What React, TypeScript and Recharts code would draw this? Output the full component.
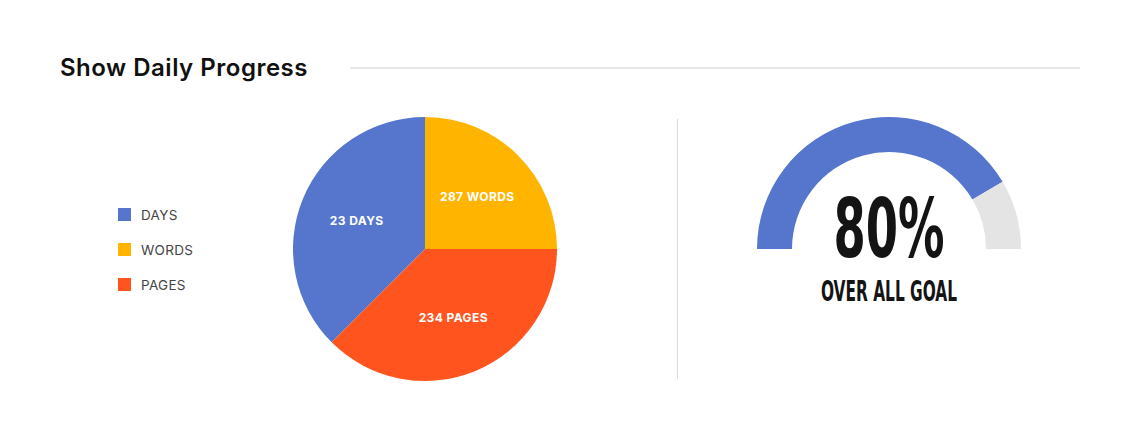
import React from 'react';
import { PieChart, Pie, Cell } from 'recharts';

const CATEGORIES = ['DAYS', 'WORDS', 'PAGES'];
const COUNTS = [23, 287, 234];
const SHARES = [37.5, 25, 37.5]; // slice sizes
const COLORS = ['#5676CD', '#FFB400', '#FF541E'];

const GAUGE_PERCENT = 80;
const GAUGE_SPLIT = [83, 17]; // filled / remaining arc
const GAUGE_COLORS = ['#5676CD', '#E4E4E4'];

const pieData = CATEGORIES.map((name, i) => ({ name, value: SHARES[i], count: COUNTS[i] }));
const gaugeData = GAUGE_SPLIT.map((value, i) => ({ name: i === 0 ? 'done' : 'left', value }));

const RADIAN = Math.PI / 180;
const NO_MARGIN = { top: 0, right: 0, bottom: 0, left: 0 };

const renderLabel = (props: any) => {
  const { cx, cy, midAngle, outerRadius, index } = props;
  const r = outerRadius * 0.56;
  const x = cx + r * Math.cos(-midAngle * RADIAN);
  const y = cy + r * Math.sin(-midAngle * RADIAN);
  return (
    <text
      x={x}
      y={y}
      fill="#fff"
      textAnchor="middle"
      dominantBaseline="central"
      style={{ fontFamily: 'Inter', fontWeight: 700, fontSize: 12, letterSpacing: 0.4 }}
    >
      {`${pieData[index].count} ${pieData[index].name}`}
    </text>
  );
};

const App: React.FC = () => {
  return (
    <div style={{ position: 'absolute', left: 0, top: 0, width: 1140, height: 441, background: '#fff', fontFamily: 'Inter' }}>
      <div style={{ position: 'absolute', left: 60, top: 53, fontSize: 24, fontWeight: 600, color: '#111', letterSpacing: 0.5, lineHeight: '30px' }}>
        Show Daily Progress
      </div>
      <div style={{ position: 'absolute', left: 350, top: 67, width: 730, height: 2, background: '#E8E8E8' }} />

      {/* legend */}
      <div style={{ position: 'absolute', left: 118, top: 197 }}>
        {CATEGORIES.map((c, i) => (
          <div key={c} style={{ display: 'flex', alignItems: 'center', height: 35 }}>
            <span style={{ width: 13, height: 13, background: COLORS[i], display: 'inline-block', marginRight: 10 }} />
            <span style={{ fontSize: 13.5, color: '#444', letterSpacing: 0.3 }}>{c}</span>
          </div>
        ))}
      </div>

      <div style={{ position: 'absolute', left: 275, top: 99 }}>
        <PieChart width={300} height={300} margin={NO_MARGIN}>
          <Pie
            data={pieData}
            dataKey="value"
            cx={150}
            cy={150}
            outerRadius={132}
            startAngle={225}
            endAngle={-135}
            stroke="none"
            label={renderLabel}
            labelLine={false}
            isAnimationActive={false}
          >
            {pieData.map((d, i) => (
              <Cell key={d.name} fill={COLORS[i]} />
            ))}
          </Pie>
        </PieChart>
      </div>

      <div style={{ position: 'absolute', left: 677, top: 119, width: 1, height: 260, background: '#DCDCDC' }} />

      <div style={{ position: 'absolute', left: 739, top: 99 }}>
        <PieChart width={300} height={300} margin={NO_MARGIN}>
          <Pie
            data={gaugeData}
            dataKey="value"
            cx={150}
            cy={150}
            innerRadius={97}
            outerRadius={132}
            startAngle={180}
            endAngle={0}
            stroke="none"
            isAnimationActive={false}
          >
            {gaugeData.map((d, i) => (
              <Cell key={d.name} fill={GAUGE_COLORS[i]} />
            ))}
          </Pie>
        </PieChart>
      </div>

      <svg style={{ position: 'absolute', left: 739, top: 180, overflow: 'visible' }} width={300} height={150}>
        <text
          x={150}
          y={77}
          textAnchor="middle"
          textLength={111}
          lengthAdjust="spacingAndGlyphs"
          fill="#141414"
          style={{ fontFamily: 'DejaVu Sans Condensed', fontWeight: 700, fontSize: 82 }}
        >
          {`${GAUGE_PERCENT}%`}
        </text>
        <text
          x={150}
          y={121}
          textAnchor="middle"
          textLength={136}
          lengthAdjust="spacingAndGlyphs"
          fill="#141414"
          style={{ fontFamily: 'DejaVu Sans Condensed', fontWeight: 700, fontSize: 28 }}
        >
          OVER ALL GOAL
        </text>
      </svg>
    </div>
  );
};

export default App;
